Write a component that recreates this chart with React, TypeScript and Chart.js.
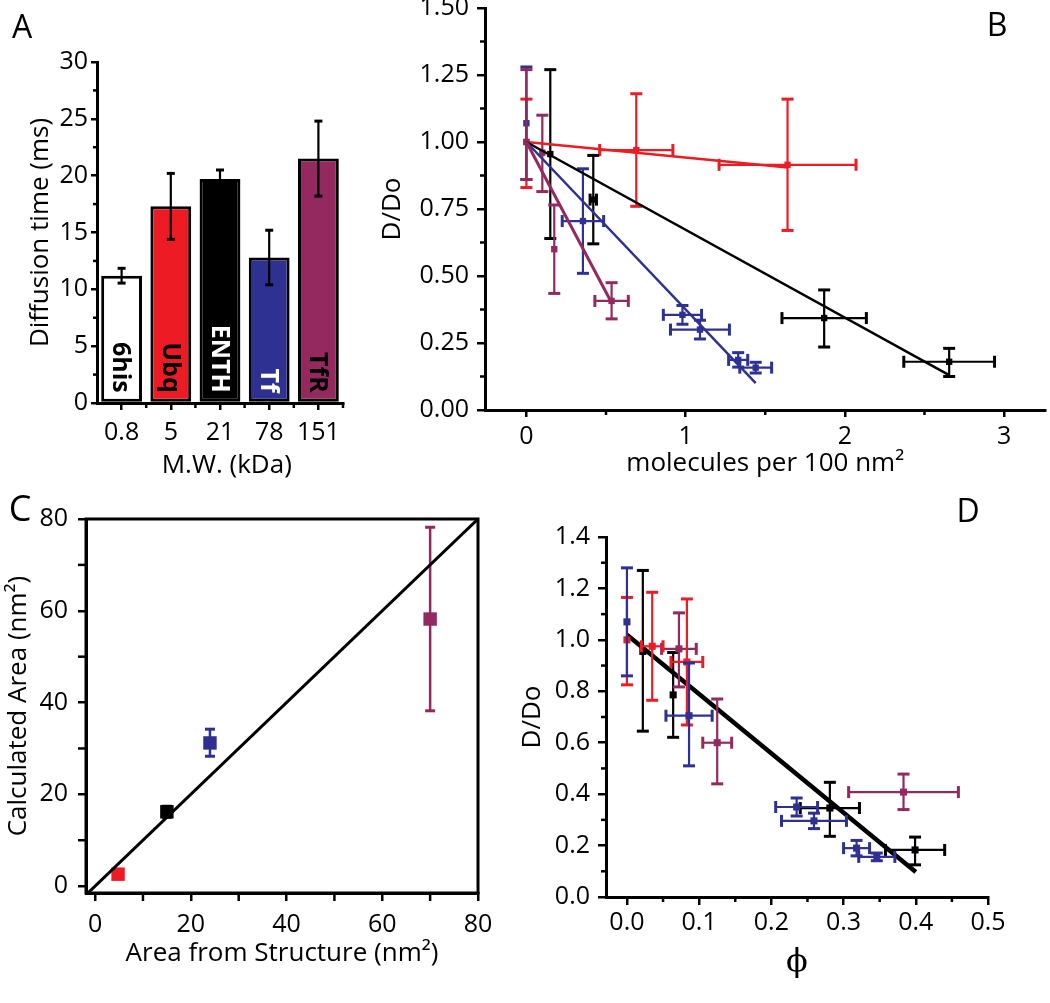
import React, { useEffect, useRef } from 'react';
import { Chart, registerables } from 'chart.js';

Chart.register(...registerables);

const FONT = "'Open Sans', sans-serif";
const RED = '#ED1C24';
const BLUE = '#2E3192';
const PURPLE = '#93295F';
const BLACK = '#000000';

// ---------------- Panel A ----------------
const mwLabels = ['0.8', '5', '21', '78', '151'];
const proteinNames = ['6his', 'Ubq', 'ENTH', 'Tf', 'TfR'];
const diffusionTime = [11.2, 17.3, 19.7, 12.8, 21.5];
const diffusionErr = [0.65, 2.9, 0.8, 2.4, 3.3];
const barColors = ['#FFFFFF', RED, BLACK, BLUE, PURPLE];
const barTextColors = ['#000000', '#000000', '#FFFFFF', '#FFFFFF', '#000000'];
const aYTicks = [0, 5, 10, 15, 20, 25, 30];
const aYMinor = [2.5, 7.5, 12.5, 17.5, 22.5, 27.5];
const aXMinor = [0.5, 1.5, 2.5, 3.5, 4.5];

// ---------------- Panel B ----------------
// [x, y, xErr, yErrDown, yErrUp]
const bRed = [
  [0, 1.0, 0, 0.17, 0.16],
  [0.69, 0.97, 0.23, 0.21, 0.21],
  [1.64, 0.915, 0.43, 0.245, 0.245],
];
const bBlack = [
  [0.15, 0.955, 0, 0.315, 0.315],
  [0.42, 0.785, 0.02, 0.165, 0.165],
  [1.87, 0.343, 0.265, 0.108, 0.105],
  [2.655, 0.18, 0.285, 0.055, 0.05],
];
const bBlue = [
  [0, 1.07, 0, 0.21, 0.21],
  [0.355, 0.705, 0.13, 0.195, 0.195],
  [0.98, 0.355, 0.12, 0.035, 0.035],
  [1.09, 0.3, 0.185, 0.035, 0.035],
  [1.33, 0.187, 0.06, 0.027, 0.027],
  [1.44, 0.158, 0.1, 0.02, 0.02],
];
const bPurple = [
  [0, 1.0, 0, 0.14, 0.27],
  [0.1, 0.96, 0, 0.145, 0.14],
  [0.175, 0.6, 0, 0.165, 0.165],
  [0.535, 0.407, 0.105, 0.067, 0.068],
];
const bFitRed = [[0, 1.0], [1.64, 0.905]];
const bFitBlack = [[0, 1.0], [2.655, 0.13]];
const bFitBlue = [[0, 1.0], [1.44, 0.1]];
const bFitPurple = [[0, 1.0], [0.535, 0.4]];
const bXTicks = [0, 1, 2, 3];
const bXMinor = [0.5, 1.5, 2.5];
const bYTicks = [0, 0.25, 0.5, 0.75, 1.0, 1.25, 1.5];
const bYMinor = [0.125, 0.375, 0.625, 0.875, 1.125, 1.375];

// ---------------- Panel C ----------------
const cRed = [[4.8, 2.6, 0, 0, 0]];
const cBlack = [[15, 16.2, 0, 1.2, 1.2]];
const cBlue = [[24, 31.2, 0, 2.9, 3.0]];
const cPurple = [[70, 58.2, 0, 20, 20]];
const cIdentity = [[-1.9, -1.9], [80, 80]];
const cXTicks = [0, 20, 40, 60, 80];
const cXMinor = [10, 30, 50, 70];
const cYTicks = [0, 20, 40, 60, 80];
const cYMinor = [10, 30, 50, 70];

// ---------------- Panel D ----------------
const dBlue = [
  [0, 1.07, 0, 0.21, 0.21],
  [0.086, 0.705, 0.032, 0.195, 0.205],
  [0.235, 0.35, 0.029, 0.035, 0.035],
  [0.259, 0.296, 0.045, 0.03, 0.03],
  [0.318, 0.19, 0.018, 0.03, 0.03],
  [0.346, 0.156, 0.025, 0.015, 0.015],
];
const dRed = [
  [0, 1.0, 0, 0.175, 0.165],
  [0.035, 0.975, 0.015, 0.21, 0.21],
  [0.083, 0.914, 0.022, 0.245, 0.245],
];
const dBlack = [
  [0.022, 0.955, 0, 0.31, 0.315],
  [0.064, 0.786, 0, 0.165, 0.165],
  [0.281, 0.346, 0.041, 0.11, 0.1],
  [0.399, 0.183, 0.041, 0.058, 0.05],
];
const dPurple = [
  [0.072, 0.965, 0.024, 0.148, 0.14],
  [0.125, 0.6, 0.02, 0.16, 0.17],
  [0.383, 0.408, 0.076, 0.068, 0.07],
];
const dFit = [[0, 1.02], [0.4, 0.097]];
const dXTicks = [0, 0.1, 0.2, 0.3, 0.4, 0.5];
const dXMinor = [0.05, 0.15, 0.25, 0.35, 0.45];
const dYTicks = [0, 0.2, 0.4, 0.6, 0.8, 1.0, 1.2, 1.4];
const dYMinor = [0.1, 0.3, 0.5, 0.7, 0.9, 1.1, 1.3];

// ---------------- Plugins ----------------
const errorBarPlugin = {
  id: 'errorBars',
  afterDatasetDraw(chart: any, args: any) {
    const ds = chart.data.datasets[args.index];
    if (!ds.errorBars) return;
    const xs = chart.scales.x;
    const ys = chart.scales.y;
    const ctx = chart.ctx;
    const cap = ds.capHalf ?? 5;
    ctx.save();
    ctx.strokeStyle = ds.errColor;
    ctx.lineWidth = ds.errWidth ?? 2;
    ctx.lineCap = 'butt';
    const seg = (x1: number, y1: number, x2: number, y2: number, w?: number) => {
      ctx.lineWidth = w ?? ds.errWidth ?? 2;
      ctx.beginPath();
      ctx.moveTo(x1, y1);
      ctx.lineTo(x2, y2);
      ctx.stroke();
    };
    const capW = ds.capWidth ?? 3;
    args.meta.data.forEach((el: any, j: number) => {
      const e = ds.errorBars[j];
      if (!e) return;
      const raw = ds.data[j];
      const yv = typeof raw === 'number' ? raw : raw.y;
      const px = el.x;
      const py = el.y;
      if (e.yLo || e.yHi) {
        const top = ys.getPixelForValue(yv + e.yHi);
        const bot = ys.getPixelForValue(yv - e.yLo);
        seg(px, top, px, bot);
        seg(px - cap, top, px + cap, top, capW);
        seg(px - cap, bot, px + cap, bot, capW);
      }
      if (e.xErr) {
        const l = xs.getPixelForValue(raw.x - e.xErr);
        const r = xs.getPixelForValue(raw.x + e.xErr);
        seg(l, py, r, py);
        seg(l, py - cap, l, py + cap, capW);
        seg(r, py - cap, r, py + cap, capW);
      }
    });
    ctx.restore();
  },
};

function minorTicks(xVals: number[], yVals: number[], xLen: number, yLen: number) {
  return {
    id: 'minorTicks',
    afterDraw(chart: any) {
      const ctx = chart.ctx;
      const a = chart.chartArea;
      const xs = chart.scales.x;
      const ys = chart.scales.y;
      ctx.save();
      ctx.strokeStyle = '#000';
      ctx.lineWidth = 2.5;
      xVals.forEach((v) => {
        const p = xs.getPixelForValue(v);
        ctx.beginPath();
        ctx.moveTo(p, a.bottom);
        ctx.lineTo(p, a.bottom + xLen);
        ctx.stroke();
      });
      yVals.forEach((v) => {
        const p = ys.getPixelForValue(v);
        ctx.beginPath();
        ctx.moveTo(a.left, p);
        ctx.lineTo(a.left - yLen, p);
        ctx.stroke();
      });
      ctx.restore();
    },
  };
}

const framePlugin = {
  id: 'frame',
  afterDraw(chart: any) {
    const a = chart.chartArea;
    const ctx = chart.ctx;
    ctx.save();
    ctx.strokeStyle = '#000';
    ctx.lineWidth = 3;
    ctx.strokeRect(a.left, a.top, a.right - a.left, a.bottom - a.top);
    ctx.restore();
  },
};

const barTextPlugin = {
  id: 'barText',
  afterDatasetsDraw(chart: any) {
    const meta = chart.getDatasetMeta(0);
    const ctx = chart.ctx;
    ctx.save();
    ctx.font = `bold 25px ${FONT}`;
    ctx.textAlign = 'right';
    ctx.textBaseline = 'middle';
    meta.data.forEach((el: any, i: number) => {
      ctx.save();
      ctx.translate(el.x, el.base - 9);
      ctx.rotate(Math.PI / 2);
      ctx.fillStyle = barTextColors[i];
      ctx.fillText(proteinNames[i], 0, 1);
      ctx.restore();
    });
    ctx.restore();
  },
};

// ---------------- Helpers ----------------
function pointsDataset(pts: number[][], color: string, radius: number, errWidth = 2.2, capHalf = 6) {
  return {
    type: 'scatter',
    data: pts.map((p) => ({ x: p[0], y: p[1] })),
    errorBars: pts.map((p) => ({ xErr: p[2], yLo: p[3], yHi: p[4] })),
    backgroundColor: color,
    borderColor: color,
    pointStyle: 'rect',
    pointRadius: radius,
    pointBorderWidth: 0,
    showLine: false,
    errColor: color,
    errWidth,
    capHalf,
    capWidth: 3,
    clip: false,
  };
}

function fitDataset(seg: number[][], color: string, width: number) {
  return {
    type: 'scatter',
    data: seg.map((p) => ({ x: p[0], y: p[1] })),
    borderColor: color,
    backgroundColor: color,
    borderWidth: width,
    pointRadius: 0,
    showLine: true,
    fill: false,
    tension: 0,
  };
}

function linearAxis(o: {
  min: number; max: number; ticks: number[]; fmt: (v: number) => string;
  tl: number; pad: number; size: number; horizontal: boolean;
  title: string; titlePad: number; titleFont?: any;
}) {
  return {
    type: 'linear',
    min: o.min,
    max: o.max,
    afterBuildTicks: (s: any) => {
      s.ticks = o.ticks.map((v) => ({ value: v }));
    },
    afterFit: (s: any) => {
      if (o.horizontal) {
        s.height = o.size;
        s.paddingLeft = 0;
        s.paddingRight = 0;
      } else {
        s.width = o.size;
        s.paddingTop = 0;
        s.paddingBottom = 0;
      }
    },
    ticks: {
      callback: (v: any) => o.fmt(Number(v)),
      color: '#000',
      font: { family: FONT, size: 25 },
      padding: o.pad,
      maxRotation: 0,
      autoSkip: false,
      includeBounds: false,
    },
    grid: {
      drawOnChartArea: false,
      drawTicks: true,
      tickLength: o.tl,
      color: '#000',
      lineWidth: 2.5,
    },
    border: { display: true, color: '#000', width: 3 },
    title: {
      display: true,
      text: o.title,
      color: '#000',
      font: o.titleFont ?? { family: FONT, size: 26 },
      padding: o.horizontal ? { top: 0, bottom: o.titlePad } : { top: o.titlePad, bottom: 0 },
    },
  };
}

const baseOptions = {
  responsive: false,
  animation: false,
  events: [],
  plugins: { legend: { display: false }, tooltip: { enabled: false } },
};

// ---------------- Chart configs ----------------
function configA(): any {
  return {
    type: 'bar',
    data: {
      labels: mwLabels,
      datasets: [
        {
          data: diffusionTime,
          backgroundColor: barColors,
          borderColor: '#000',
          borderWidth: 3,
          borderSkipped: false,
          barPercentage: 0.83,
          categoryPercentage: 1.0,
          errorBars: diffusionErr.map((e) => ({ xErr: 0, yLo: e, yHi: e })),
          errColor: '#000',
          errWidth: 2.2,
          capHalf: 4,
          capWidth: 3,
        },
      ],
    },
    options: {
      ...baseOptions,
      layout: { padding: { top: 62, right: 7, left: 0, bottom: 0 } },
      scales: {
        x: {
          type: 'category',
          offset: true,
          afterFit: (s: any) => {
            s.height = 87;
            s.paddingLeft = 0;
            s.paddingRight = 0;
          },
          ticks: { color: '#000', font: { family: FONT, size: 25 }, padding: 8, maxRotation: 0 },
          grid: { offset: false, drawOnChartArea: false, drawTicks: true, tickLength: 7, color: '#000', lineWidth: 2.5 },
          border: { display: true, color: '#000', width: 3 },
          title: { display: true, text: '  M.W. (kDa)', color: '#000', font: { family: FONT, size: 26 }, padding: { top: 0, bottom: 9 } },
        },
        y: linearAxis({
          min: 0, max: 30, ticks: aYTicks, fmt: (v) => String(v), tl: 6, pad: 3, size: 97,
          horizontal: false, title: 'Diffusion time (ms)', titlePad: 25,
        }),
      },
    },
    plugins: [errorBarPlugin, barTextPlugin, minorTicks(aXMinor, aYMinor, 5, 4)],
  };
}

function configB(): any {
  return {
    type: 'scatter',
    data: {
      datasets: [
        fitDataset(bFitPurple, PURPLE, 3),
        fitDataset(bFitBlue, BLUE, 2.5),
        fitDataset(bFitBlack, BLACK, 2.5),
        fitDataset(bFitRed, RED, 2.5),
        pointsDataset(bPurple, PURPLE, 4.5),
        pointsDataset(bBlue, BLUE, 4.5),
        pointsDataset(bBlack, BLACK, 4.5),
        pointsDataset(bRed, RED, 4.5),
      ],
    },
    options: {
      ...baseOptions,
      layout: { padding: { top: 8, right: 0, left: 0, bottom: 0 } },
      scales: {
        x: linearAxis({
          min: -0.26, max: 3.26, ticks: bXTicks, fmt: (v) => String(v), tl: 7, pad: 5, size: 80,
          horizontal: true, title: 'molecules per 100 nm²', titlePad: 11,
        }),
        y: linearAxis({
          min: 0, max: 1.5, ticks: bYTicks, fmt: (v) => v.toFixed(2), tl: 8, pad: 8, size: 145,
          horizontal: false, title: 'D/Do', titlePad: 37,
        }),
      },
    },
    plugins: [errorBarPlugin, minorTicks(bXMinor, bYMinor, 5, 5)],
  };
}

function configC(): any {
  return {
    type: 'scatter',
    data: {
      datasets: [
        fitDataset(cIdentity, BLACK, 3),
        pointsDataset(cRed, RED, 9.5, 2.5, 5),
        pointsDataset(cBlack, BLACK, 9.5, 2.5, 5),
        pointsDataset(cBlue, BLUE, 9.5, 2.5, 5),
        pointsDataset(cPurple, PURPLE, 9.5, 2.5, 5),
      ],
    },
    options: {
      ...baseOptions,
      layout: { padding: { top: 49, right: 22, left: 0, bottom: 0 } },
      scales: {
        x: linearAxis({
          min: -1.9, max: 80, ticks: cXTicks, fmt: (v) => String(v), tl: 8, pad: 9, size: 110,
          horizontal: true, title: 'Area from Structure (nm²)', titlePad: 34,
        }),
        y: linearAxis({
          min: -1.5, max: 80, ticks: cYTicks, fmt: (v) => String(v), tl: 8, pad: 10, size: 86,
          horizontal: false, title: 'Calculated Area (nm²)', titlePad: 3,
        }),
      },
    },
    plugins: [errorBarPlugin, framePlugin, minorTicks(cXMinor, cYMinor, 8, 8)],
  };
}

function configD(): any {
  return {
    type: 'scatter',
    data: {
      datasets: [
        pointsDataset(dBlue, BLUE, 5),
        pointsDataset(dRed, RED, 5),
        pointsDataset(dPurple, PURPLE, 5),
        pointsDataset(dBlack, BLACK, 5),
        fitDataset(dFit, BLACK, 4.5),
      ],
    },
    options: {
      ...baseOptions,
      layout: { padding: { top: 67, right: 62, left: 0, bottom: 0 } },
      scales: {
        x: linearAxis({
          min: -0.029, max: 0.5, ticks: dXTicks, fmt: (v) => v.toFixed(1), tl: 8, pad: 3, size: 106,
          horizontal: true, title: 'ϕ', titlePad: 21, titleFont: { family: "'DejaVu Serif', serif", size: 32 },
        }),
        y: linearAxis({
          min: 0, max: 1.4, ticks: dYTicks, fmt: (v) => v.toFixed(1), tl: 8, pad: 8, size: 106,
          horizontal: false, title: 'D/Do', titlePad: 17,
        }),
      },
    },
    plugins: [errorBarPlugin, minorTicks(dXMinor, dYMinor, 5, 5)],
  };
}

function ChartBox(props: { left: number; top: number; width: number; height: number; make: () => any }) {
  const ref = useRef<HTMLCanvasElement>(null);
  useEffect(() => {
    const chart = new Chart(ref.current as HTMLCanvasElement, props.make());
    return () => chart.destroy();
  }, []);
  return (
    <canvas
      ref={ref}
      width={props.width}
      height={props.height}
      style={{ position: 'absolute', left: props.left, top: props.top, width: props.width, height: props.height }}
    />
  );
}

function PanelLabel(props: { text: string; x: number; y: number; size?: number }) {
  return (
    <div
      style={{
        position: 'absolute',
        left: props.x,
        top: props.y,
        transform: 'translate(-50%, -50%)',
        fontFamily: FONT,
        fontSize: props.size ?? 32,
        lineHeight: 1,
        color: '#000',
      }}
    >
      {props.text}
    </div>
  );
}

export default function App() {
  return (
    <div style={{ position: 'absolute', left: 0, top: 0, width: 1050, height: 1003, background: '#fff', overflow: 'hidden' }}>
      <ChartBox left={0} top={0} width={350} height={490} make={configA} />
      <ChartBox left={340} top={0} width={710} height={490} make={configB} />
      <ChartBox left={0} top={470} width={500} height={533} make={configC} />
      <ChartBox left={500} top={470} width={550} height={533} make={configD} />
      <PanelLabel text="A" x={22} y={26} />
      <PanelLabel text="B" x={997} y={24} />
      <PanelLabel text="C" x={20} y={508} size={36} />
      <PanelLabel text="D" x={968} y={510} />
    </div>
  );
}
